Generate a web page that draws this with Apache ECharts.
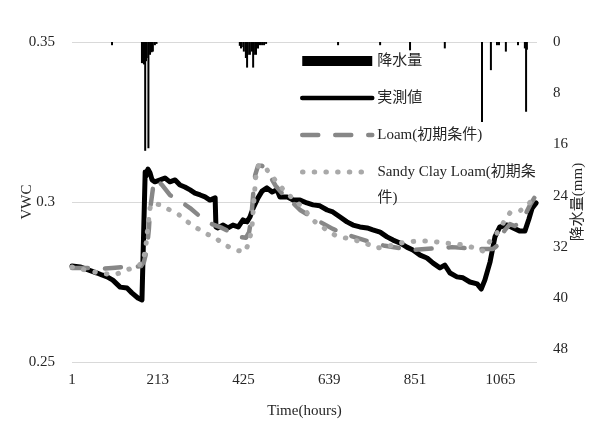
<!DOCTYPE html>
<html><head><meta charset="utf-8">
<script src="https://cdn.jsdelivr.net/npm/echarts@6/dist/echarts.min.js"></script>
<style>html,body{margin:0;padding:0;background:#fff}#c{width:589px;height:422px}</style>
</head><body><div id="c"></div>
<script>
const tickLabels = ['1','213','425','639','851','1065'];

const obsT = [0,20,40,62,74,87,101,119,136,148,163,173,177,181,183,188,193,198,205,218,230,242,255,267,279,292,304,317,329,341,354,356,361,373,386,398,411,423,433,440,448,460,470,482,495,507,514,532,547,564,581,596,613,631,645,663,680,695,712,730,744,762,779,794,811,828,843,861,878,893,910,922,935,952,967,984,1002,1012,1021,1034,1046,1058,1076,1091,1108,1120,1130,1138,1148];
const obsVWC = [0.2800,0.2797,0.2788,0.2778,0.2772,0.2766,0.2756,0.2734,0.2731,0.2716,0.2700,0.2694,0.2694,0.3094,0.3081,0.3103,0.3091,0.3069,0.3063,0.3069,0.3075,0.3063,0.3069,0.3053,0.3047,0.3038,0.3028,0.3022,0.3016,0.3006,0.3013,0.2922,0.2919,0.2928,0.2919,0.2928,0.2922,0.2944,0.2938,0.2953,0.2981,0.3013,0.3034,0.3044,0.3031,0.3038,0.3016,0.3016,0.3006,0.3006,0.2997,0.2991,0.2988,0.2975,0.2969,0.2953,0.2938,0.2928,0.2922,0.2919,0.2913,0.2906,0.2891,0.2881,0.2872,0.2859,0.2850,0.2834,0.2825,0.2809,0.2794,0.2803,0.2778,0.2766,0.2763,0.2750,0.2744,0.2728,0.2756,0.2813,0.2891,0.2922,0.2928,0.2919,0.2909,0.2909,0.2947,0.2981,0.2997];

const loamT = [0,32,69,99,131,156,171,178,185,190,193,198,203,210,223,242,267,292,324,346,371,396,415,430,438,443,448,453,460,470,480,492,504,519,539,564,589,613,645,675,705,737,774,811,841,873,910,940,972,1009,1041,1051,1058,1071,1083,1095,1108,1120,1133,1145];
const loamVWC = [0.2794,0.2794,0.2791,0.2794,0.2797,0.2797,0.2800,0.2813,0.2850,0.2913,0.2975,0.3022,0.3069,0.3069,0.3053,0.3022,0.3003,0.2981,0.2947,0.2931,0.2919,0.2903,0.2891,0.2888,0.2906,0.2944,0.3022,0.3084,0.3113,0.3113,0.3100,0.3075,0.3050,0.3028,0.3006,0.2975,0.2956,0.2938,0.2916,0.2900,0.2888,0.2875,0.2863,0.2856,0.2850,0.2853,0.2856,0.2859,0.2856,0.2853,0.2853,0.2863,0.2888,0.2913,0.2931,0.2925,0.2938,0.2959,0.2991,0.3016];

const sclT = [0,32,57,87,111,136,163,176,183,188,193,200,218,242,262,279,304,329,354,378,403,428,438,445,450,455,462,477,490,502,519,539,564,601,626,650,675,700,730,754,786,824,856,885,922,967,997,1016,1034,1053,1071,1083,1108,1128,1142];
const sclVWC = [0.2797,0.2788,0.2781,0.2775,0.2775,0.2788,0.2800,0.2813,0.2866,0.2928,0.2981,0.2997,0.2991,0.2975,0.2963,0.2944,0.2922,0.2903,0.2888,0.2866,0.2850,0.2844,0.2875,0.2919,0.3006,0.3084,0.3116,0.3109,0.3088,0.3069,0.3044,0.3019,0.2991,0.2938,0.2916,0.2897,0.2888,0.2881,0.2869,0.2856,0.2863,0.2875,0.2878,0.2878,0.2872,0.2866,0.2856,0.2847,0.2878,0.2906,0.2944,0.2966,0.2972,0.2994,0.3009];

const rainT = [99,173,176,178,181,183,185,189,193,197,200,205,209,415,418,420,425,430,433,435,440,445,448,450,455,460,465,470,475,480,658,762,836,922,1014,1036,1051,1056,1073,1103,1120,1123,1125];
const rainMM = [0.5,3.3,3.3,3.5,17.0,3.0,2.5,16.6,2.0,1.6,1.5,0.5,0.3,0.6,1.0,0.8,1.5,2.5,4.0,2.0,2.0,1.5,4.0,2.0,2.0,1.0,0.5,0.5,0.5,0.3,0.5,0.5,1.3,1.0,12.5,4.4,0.5,0.5,1.5,0.5,1.0,10.9,1.2];

const zip = (a, b) => a.map((t, i) => [t, b[i]]);
const FONT = "'Liberation Serif', 'Noto Sans CJK JP', serif";
const TXT = '#262626';

const chart = echarts.init(document.getElementById('c'), null, {renderer: 'canvas'});
chart.setOption({
  animation: false,
  backgroundColor: '#fff',
  textStyle: {fontFamily: FONT, color: TXT, fontSize: 15},
  grid: {left: 72, right: 52, top: 42, bottom: 60, containLabel: false, outerBoundsMode: 'none'},
  xAxis: {
    type: 'value', min: 0, max: 1150, interval: 212,
    name: 'Time(hours)', nameLocation: 'middle', nameGap: 42, nameMoveOverlap: false,
    nameTextStyle: {fontFamily: FONT, color: TXT, fontSize: 15},
    axisLine: {show: false}, axisTick: {show: false}, splitLine: {show: false},
    axisLabel: {
      margin: 11, fontFamily: FONT, color: TXT, fontSize: 15, showMaxLabel: false,
      formatter: v => (v % 212 === 0 && v / 212 < tickLabels.length) ? tickLabels[v / 212] : ''
    }
  },
  yAxis: [{
    type: 'value', min: 0.25, max: 0.35, interval: 0.05,
    name: 'VWC', nameLocation: 'middle', nameGap: 37, nameRotate: 90, nameMoveOverlap: false,
    nameTextStyle: {fontFamily: FONT, color: TXT, fontSize: 15},
    axisLine: {show: false}, axisTick: {show: false},
    axisLabel: {margin: 17, fontFamily: FONT, color: TXT, fontSize: 15},
    splitLine: {show: true, lineStyle: {color: '#d9d9d9', width: 1}}
  }, {
    type: 'value', min: 0, max: 50, interval: 8, inverse: true, position: 'right',
    name: '降水量(mm)', nameLocation: 'middle', nameGap: 34, nameRotate: 90, nameMoveOverlap: false,
    nameTextStyle: {fontFamily: FONT, color: TXT, fontSize: 15},
    axisLine: {show: false}, axisTick: {show: false}, splitLine: {show: false},
    axisLabel: {margin: 16, fontFamily: FONT, color: TXT, fontSize: 15, showMaxLabel: false}
  }],
  legend: [{
    orient: 'vertical', left: 300, top: 52, padding: 0,
    itemWidth: 70, itemHeight: 10, itemGap: 19,
    textStyle: {fontFamily: FONT, color: TXT, fontSize: 15, lineHeight: 18},
    data: [
      {name: '降水量', icon: 'rect'},
      {name: '実測値', itemStyle: {opacity: 0}, lineStyle: {width: 4.5}},
      {name: 'Loam(初期条件)', itemStyle: {opacity: 0}, lineStyle: {width: 4.5}}
    ]
  }, {
    orient: 'vertical', left: 300, top: 133, padding: 0,
    itemWidth: 70, itemHeight: 10,
    textStyle: {fontFamily: FONT, color: TXT, fontSize: 15, lineHeight: 26},
    formatter: n => n === 'Sandy Clay Loam(初期条件)' ? ' \nSandy Clay Loam(初期条\n件)' : n,
    data: [
      {name: 'Sandy Clay Loam(初期条件)', itemStyle: {opacity: 0}, lineStyle: {width: 5}}
    ]
  }],
  series: [{
    name: '降水量', type: 'bar', yAxisIndex: 1, barWidth: 2,
    itemStyle: {color: '#000'}, data: zip(rainT, rainMM), z: 2
  }, {
    name: '実測値', type: 'line', yAxisIndex: 0, symbol: 'none',
    lineStyle: {color: '#000', width: 5, join: 'round', cap: 'round'},
    itemStyle: {color: '#000'}, data: zip(obsT, obsVWC), z: 3
  }, {
    name: 'Loam(初期条件)', type: 'line', yAxisIndex: 0, symbol: 'none',
    lineStyle: {color: '#878787', width: 4.5, type: [16, 17], cap: 'round', join: 'round'},
    itemStyle: {color: '#878787'}, data: zip(loamT, loamVWC), z: 4
  }, {
    name: 'Sandy Clay Loam(初期条件)', type: 'line', yAxisIndex: 0, symbol: 'none',
    lineStyle: {color: '#a9a9a9', width: 5, type: [0.5, 11.2], cap: 'round', join: 'round'},
    itemStyle: {color: '#a9a9a9'}, data: zip(sclT, sclVWC), z: 5
  }]
});
</script></body></html>
